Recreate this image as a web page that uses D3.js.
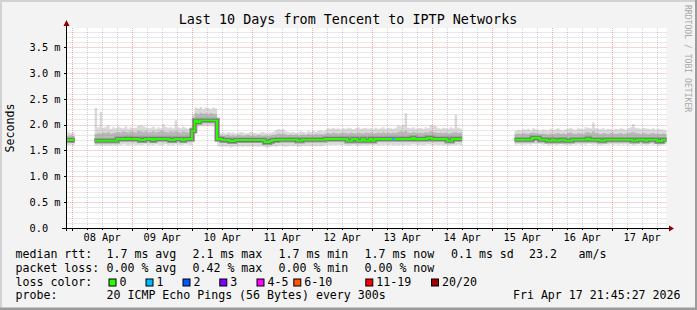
<!DOCTYPE html>
<html>
<head>
<meta charset="utf-8">
<script src="https://cdn.jsdelivr.net/npm/d3@7"></script>
<style>
  body { margin: 0; background: #f3f3f3; }
  svg text { font-family: "DejaVu Sans Mono", monospace; white-space: pre; }
</style>
</head>
<body>
<script>
// ---- data (hourly bins from Apr 7 22:00 UTC, values in ms) ----
var titleText = "Last 10 Days from Tencent to IPTP Networks";

var median = [
  1.70,1.70,1.70,null,null,null,null,null,null,null,
  null,1.69,1.69,1.69,1.69,1.69,1.69,1.69,1.69,1.69,
  1.72,1.72,1.72,1.72,1.73,1.72,1.72,1.72,1.72,1.70,
  1.70,1.72,1.72,1.72,1.70,1.72,1.72,1.72,1.72,1.72,
  1.72,1.70,1.70,1.72,1.72,1.72,1.70,1.72,1.72,1.72,
  1.88,2.08,2.05,2.08,2.08,2.08,2.08,2.08,2.08,2.08,
  1.72,1.72,1.70,1.70,1.70,1.68,1.68,1.70,1.70,1.70,
  1.70,1.70,1.70,1.70,1.70,1.70,1.70,1.70,1.70,1.66,
  1.66,1.68,1.70,1.70,1.71,1.71,1.71,1.71,1.71,1.71,
  1.71,1.71,1.69,1.69,1.71,1.71,1.71,1.71,1.71,1.71,
  1.71,1.71,1.71,1.72,1.72,1.72,1.72,1.72,1.72,1.72,
  1.72,1.72,1.69,1.69,1.72,1.72,1.69,1.69,1.72,1.69,
  1.69,1.72,1.69,1.72,1.72,1.72,1.72,1.72,1.72,1.72,
  1.72,1.72,1.72,1.72,1.72,1.72,1.72,1.72,1.74,1.72,
  1.72,1.72,1.72,1.72,1.74,1.74,1.72,1.72,1.72,1.72,
  1.72,1.72,1.69,1.69,1.72,1.72,1.72,1.72,null,null,
  null,null,null,null,null,null,null,null,null,null,
  null,null,null,null,null,null,null,null,null,1.71,
  1.71,1.71,1.71,1.71,1.71,1.71,1.74,1.74,1.74,1.71,
  1.71,1.71,1.69,1.69,1.71,1.69,1.69,1.71,1.71,1.69,
  1.69,1.69,1.71,1.71,1.71,1.71,1.71,1.71,1.73,1.71,
  1.71,1.71,1.71,1.69,1.69,1.71,1.71,1.71,1.71,1.71,
  1.71,1.71,1.71,1.71,1.71,1.71,1.69,1.69,1.71,1.71,
  1.71,1.69,1.71,1.71,1.71,1.71,1.68,1.68,1.71,1.71
];

var pingMax = [
  1.86,1.84,1.85,null,null,null,null,null,null,null,
  null,2.32,1.95,2.25,1.94,1.96,1.99,1.92,1.95,1.93,
  1.96,1.94,1.93,1.97,1.92,1.95,1.93,1.94,1.98,1.99,
  1.97,1.95,1.93,1.94,1.96,1.92,1.95,1.93,2.01,1.96,
  1.94,1.95,1.93,2.08,1.95,1.93,1.96,1.94,1.92,1.95,
  2.20,2.33,2.31,2.34,2.30,2.33,2.32,2.30,2.33,2.31,
  1.86,1.84,1.85,1.83,1.86,1.84,1.85,1.83,1.84,1.86,
  1.85,1.83,1.84,1.86,1.85,1.84,1.83,1.85,1.86,1.84,
  1.83,1.85,1.86,1.89,1.91,1.90,1.91,1.87,1.86,1.85,
  1.86,1.84,1.85,1.87,1.86,1.85,1.87,1.86,1.88,1.86,
  1.88,1.89,1.87,1.90,1.93,1.92,1.94,1.92,1.93,1.91,
  1.93,1.92,1.94,1.93,1.91,1.93,1.95,1.92,1.93,1.94,
  1.92,1.93,1.91,1.94,1.92,1.93,1.95,1.92,1.94,1.93,
  1.92,1.94,1.98,1.97,1.99,2.22,1.94,1.93,1.95,1.92,
  1.93,1.94,1.92,1.95,1.93,1.99,1.98,1.97,1.93,1.92,
  1.94,1.93,1.92,1.95,1.93,2.19,1.94,1.92,null,null,
  null,null,null,null,null,null,null,null,null,null,
  null,null,null,null,null,null,null,null,null,1.88,
  1.90,1.89,1.91,1.90,1.92,1.89,1.93,1.91,1.90,1.89,
  1.91,1.90,1.89,1.92,1.90,1.91,1.93,1.90,1.89,1.91,
  1.92,1.94,1.91,1.90,1.93,1.92,1.91,1.95,1.94,1.93,
  2.04,1.93,1.92,1.91,1.93,1.90,1.92,1.91,1.90,1.92,
  1.91,1.93,1.92,1.90,1.93,1.95,2.01,1.94,1.93,1.92,
  1.94,1.93,1.92,1.91,1.93,1.90,1.92,1.91,1.90,1.89
];

var pingHigh = [
  1.78,1.79,1.78,null,null,null,null,null,null,null,
  null,1.82,1.84,1.83,1.85,1.84,1.86,1.83,1.84,1.85,
  1.86,1.85,1.87,1.86,1.85,1.87,1.86,1.85,1.88,1.87,
  1.86,1.87,1.85,1.86,1.87,1.85,1.86,1.88,1.87,1.86,
  1.85,1.87,1.86,1.88,1.86,1.85,1.87,1.86,1.85,1.86,
  2.06,2.22,2.20,2.23,2.21,2.22,2.20,2.22,2.21,2.20,
  1.80,1.79,1.78,1.79,1.80,1.78,1.79,1.78,1.80,1.79,
  1.78,1.79,1.80,1.78,1.79,1.78,1.80,1.79,1.78,1.79,
  1.78,1.79,1.80,1.81,1.83,1.82,1.83,1.81,1.80,1.81,
  1.80,1.81,1.79,1.80,1.81,1.80,1.82,1.81,1.80,1.82,
  1.81,1.82,1.81,1.83,1.84,1.83,1.85,1.84,1.83,1.84,
  1.85,1.84,1.83,1.85,1.84,1.83,1.85,1.84,1.83,1.85,
  1.84,1.85,1.83,1.84,1.85,1.84,1.86,1.84,1.85,1.84,
  1.85,1.84,1.86,1.87,1.86,1.88,1.85,1.84,1.86,1.85,
  1.84,1.85,1.84,1.86,1.85,1.87,1.86,1.85,1.84,1.85,
  1.84,1.85,1.83,1.84,1.85,1.86,1.84,1.85,null,null,
  null,null,null,null,null,null,null,null,null,null,
  null,null,null,null,null,null,null,null,null,1.82,
  1.83,1.82,1.84,1.83,1.82,1.84,1.85,1.84,1.83,1.82,
  1.83,1.82,1.81,1.83,1.82,1.83,1.84,1.82,1.83,1.82,
  1.84,1.85,1.83,1.82,1.84,1.83,1.82,1.85,1.86,1.84,
  1.87,1.84,1.83,1.82,1.84,1.83,1.82,1.84,1.83,1.82,
  1.83,1.84,1.82,1.83,1.84,1.85,1.86,1.84,1.83,1.82,
  1.84,1.83,1.82,1.83,1.84,1.82,1.83,1.82,1.83,1.82
];

var pingLow = [
  1.60,1.61,1.60,null,null,null,null,null,null,null,
  null,1.59,1.60,1.59,1.60,1.59,1.60,1.59,1.60,1.59,
  1.61,1.60,1.62,1.61,1.60,1.61,1.62,1.60,1.61,1.60,
  1.61,1.62,1.60,1.61,1.60,1.62,1.61,1.60,1.61,1.62,
  1.60,1.61,1.60,1.62,1.61,1.60,1.61,1.62,1.61,1.60,
  1.70,1.97,1.96,1.98,1.97,1.98,1.97,1.98,1.97,1.98,
  1.58,1.57,1.58,1.57,1.58,1.56,1.57,1.58,1.57,1.58,
  1.57,1.58,1.57,1.58,1.57,1.58,1.57,1.58,1.57,1.56,
  1.56,1.57,1.58,1.57,1.58,1.59,1.58,1.57,1.58,1.59,
  1.58,1.59,1.57,1.58,1.59,1.58,1.59,1.58,1.59,1.58,
  1.59,1.58,1.59,1.60,1.61,1.60,1.61,1.60,1.61,1.60,
  1.61,1.60,1.59,1.60,1.61,1.60,1.59,1.60,1.61,1.60,
  1.60,1.61,1.60,1.61,1.60,1.61,1.60,1.61,1.60,1.61,
  1.60,1.61,1.60,1.61,1.60,1.61,1.60,1.61,1.62,1.61,
  1.60,1.61,1.60,1.61,1.62,1.61,1.60,1.61,1.60,1.61,
  1.60,1.61,1.59,1.60,1.61,1.60,1.61,1.60,null,null,
  null,null,null,null,null,null,null,null,null,null,
  null,null,null,null,null,null,null,null,null,1.61,
  1.62,1.61,1.62,1.61,1.62,1.61,1.63,1.62,1.63,1.62,
  1.61,1.62,1.60,1.61,1.62,1.60,1.61,1.62,1.61,1.60,
  1.61,1.60,1.62,1.61,1.62,1.61,1.62,1.61,1.63,1.62,
  1.61,1.62,1.61,1.60,1.61,1.62,1.61,1.62,1.61,1.62,
  1.61,1.62,1.61,1.62,1.61,1.62,1.60,1.61,1.62,1.61,
  1.62,1.60,1.61,1.62,1.61,1.62,1.59,1.60,1.61,1.62
];

// bins where 1 of 20 pings was lost
var lossBins = [130];

var yTicks = [0, 0.5, 1.0, 1.5, 2.0, 2.5, 3.0, 3.5];
var yTickLabels = ["0.0", "0.5 m", "1.0 m", "1.5 m", "2.0 m", "2.5 m", "3.0 m", "3.5 m"];
var xTickLabels = ["08 Apr", "09 Apr", "10 Apr", "11 Apr", "12 Apr", "13 Apr", "14 Apr", "15 Apr", "16 Apr", "17 Apr"];

var rttStats = ["median rtt:", "1.7 ms avg", "2.1 ms max", "1.7 ms min", "1.7 ms now", "0.1 ms sd", "23.2", "am/s"];
var lossStats = ["packet loss:", "0.00 % avg", "0.42 % max", "0.00 % min", "0.00 % now"];
var lossLabels = ["0", "1", "2", "3", "4-5", "6-10", "11-19", "20/20"];
var lossColors = ["#26ff00", "#00b8ff", "#0059ff", "#7e00ff", "#ff00ff", "#ff5500", "#ff0000", "#a10000"];
var probeText = "20 ICMP Echo Pings (56 Bytes) every 300s";
var stampText = "Fri Apr 17 21:45:27 2026";

// ---- layout ----
var svgWidth = 697, svgHeight = 310;
var plot = {left: 66.5, top: 28, width: 600, height: 200};
var yTop = 3.87;

var startTime = new Date(Date.UTC(2026, 3, 7, 21, 45, 27));
var endTime = new Date(Date.UTC(2026, 3, 17, 21, 45, 27));
var firstBin = new Date(Date.UTC(2026, 3, 7, 22, 0, 0));

var svg = d3.select("body").append("svg")
  .attr("width", svgWidth)
  .attr("height", svgHeight);

svg.append("rect").attr("width", svgWidth).attr("height", svgHeight).attr("fill", "#f3f3f3");
// shaded frame
svg.append("rect").attr("x", 0).attr("y", 0).attr("width", svgWidth).attr("height", 2).attr("fill", "#d2d2d2");
svg.append("rect").attr("x", 0).attr("y", 0).attr("width", 2).attr("height", svgHeight).attr("fill", "#d2d2d2");
svg.append("rect").attr("x", 0).attr("y", svgHeight - 2.5).attr("width", svgWidth).attr("height", 2.5).attr("fill", "#9c9c9c");
svg.append("rect").attr("x", svgWidth - 2).attr("y", 0).attr("width", 2).attr("height", svgHeight).attr("fill", "#9c9c9c");

var x = d3.scaleUtc().domain([startTime, endTime]).range([plot.left, plot.left + plot.width]);
var y = d3.scaleLinear().domain([0, yTop]).range([plot.top + plot.height, plot.top]);

svg.append("rect")
  .attr("x", plot.left).attr("y", plot.top)
  .attr("width", plot.width).attr("height", plot.height)
  .attr("fill", "#ffffff");

svg.append("clipPath").attr("id", "clip")
  .append("rect")
  .attr("x", plot.left).attr("y", plot.top)
  .attr("width", plot.width).attr("height", plot.height);

// expand hourly bins into step points
var steps = [];
median.forEach(function(m, i) {
  if (m == null) { steps.push(null); return; }
  var d = {med: m, max: pingMax[i], high: pingHigh[i], low: pingLow[i]};
  steps.push(Object.assign({t: d3.utcHour.offset(firstBin, i)}, d));
  steps.push(Object.assign({t: d3.utcHour.offset(firstBin, i + 1)}, d));
});

var chartGroup = svg.append("g").attr("clip-path", "url(#clip)");

//smoke
chartGroup.append("path")
  .attr("d", d3.area().defined(d => d).x(d => x(d.t)).y0(d => y(d.low)).y1(d => y(d.max))(steps))
  .attr("fill", "#dadada");

chartGroup.append("path")
  .attr("d", d3.area().defined(d => d).x(d => x(d.t)).y0(d => y(d.med)).y1(d => y(d.high))(steps))
  .attr("fill", "#b8b8b8");

var medLine = d3.line().defined(d => d).x(d => x(d.t)).y(d => y(d.med));

chartGroup.append("path")
  .attr("d", medLine(steps))
  .attr("fill", "none").attr("stroke", "#9a9a9a").attr("stroke-width", 5.5);

chartGroup.append("path")
  .attr("d", medLine(steps))
  .attr("fill", "none").attr("stroke", "#5a5a5a").attr("stroke-width", 3.2);

//median coloured by loss
chartGroup.append("path")
  .attr("d", medLine(steps))
  .attr("fill", "none").attr("stroke", lossColors[0]).attr("stroke-width", 2.2);

chartGroup.selectAll(".loss")
  .data(lossBins)
  .enter()
  .append("line")
  .attr("x1", i => x(d3.utcHour.offset(firstBin, i)))
  .attr("x2", i => x(d3.utcHour.offset(firstBin, i + 1)))
  .attr("y1", i => y(median[i]))
  .attr("y2", i => y(median[i]))
  .attr("stroke", lossColors[1]).attr("stroke-width", 2.2);

// grid on top of the data
var gridGroup = svg.append("g");
var px = v => Math.round(v) + 0.5;

var minorY = y.ticks(40).filter(v => yTicks.indexOf(v) < 0);
gridGroup.selectAll(".ygrid")
  .data(minorY).enter().append("line")
  .attr("x1", plot.left + 1).attr("x2", plot.left + plot.width)
  .attr("y1", d => px(y(d))).attr("y2", d => px(y(d)))
  .attr("stroke", "rgba(150,150,150,0.42)").attr("stroke-dasharray", "1,1");

var sixHours = d3.utcHour.every(6).range(startTime, endTime).filter(t => t.getUTCHours() != 0);
gridGroup.selectAll(".xgrid")
  .data(sixHours).enter().append("line")
  .attr("x1", d => px(x(d))).attr("x2", d => px(x(d)))
  .attr("y1", plot.top).attr("y2", plot.top + plot.height)
  .attr("stroke", "rgba(150,150,150,0.42)").attr("stroke-dasharray", "1,1");

gridGroup.selectAll(".ymgrid")
  .data(yTicks.slice(1)).enter().append("line")
  .attr("x1", plot.left + 1).attr("x2", plot.left + plot.width)
  .attr("y1", d => px(y(d))).attr("y2", d => px(y(d)))
  .attr("stroke", "rgba(225,90,90,0.5)").attr("stroke-dasharray", "1,1");

var days = d3.utcDay.range(startTime, endTime);
gridGroup.selectAll(".xmgrid")
  .data(days).enter().append("line")
  .attr("x1", d => px(x(d))).attr("x2", d => px(x(d)))
  .attr("y1", plot.top).attr("y2", plot.top + plot.height)
  .attr("stroke", "rgba(225,90,90,0.5)").attr("stroke-dasharray", "1,1");

// axes
var axisY = px(y(0)) - 0.5;
var axisX = plot.left;
var axisGroup = svg.append("g").attr("stroke", "#000").attr("shape-rendering", "crispEdges");
axisGroup.append("line").attr("x1", 62).attr("x2", 669).attr("y1", axisY + 0.5).attr("y2", axisY + 0.5);
axisGroup.append("line").attr("x1", axisX).attr("x2", axisX).attr("y1", 24).attr("y2", 231);

axisGroup.selectAll(".yt").data(yTicks.slice(1)).enter().append("line")
  .attr("x1", axisX - 3).attr("x2", axisX).attr("y1", d => px(y(d))).attr("y2", d => px(y(d)));
axisGroup.selectAll(".xt").data(days).enter().append("line")
  .attr("x1", d => px(x(d))).attr("x2", d => px(x(d))).attr("y1", axisY).attr("y2", axisY + 3);
axisGroup.selectAll(".xmt").data(sixHours).enter().append("line")
  .attr("x1", d => px(x(d))).attr("x2", d => px(x(d))).attr("y1", axisY).attr("y2", axisY + 2);

svg.append("path").attr("d", `M${axisX - 3},26 L${axisX + 3},26 L${axisX},20 Z`).attr("fill", "#8b0000");
svg.append("path").attr("d", `M669,${axisY - 2.5} L669,${axisY + 3.5} L674,${axisY + 0.5} Z`).attr("fill", "#8b0000");

// tick labels
svg.selectAll(".ylab").data(yTicks).enter().append("text")
  .attr("x", 29.5).attr("y", d => y(d) + 3.8)
  .attr("font-size", "10.3px").attr("fill", "#000")
  .text((d, i) => yTickLabels[i]);

svg.selectAll(".xlab").data(days).enter().append("text")
  .attr("x", d => x(d3.utcHour.offset(d, 12)))
  .attr("y", 240.5)
  .attr("text-anchor", "middle")
  .attr("font-size", "10.3px").attr("fill", "#000")
  .text((d, i) => xTickLabels[i]);

// titles
svg.append("text")
  .attr("x", 348).attr("y", 23.5)
  .attr("text-anchor", "middle")
  .attr("font-size", "13.4px")
  .text(titleText);

svg.append("text")
  .attr("transform", "translate(14,128) rotate(-90)")
  .attr("text-anchor", "middle")
  .attr("font-size", "11.6px")
  .text("Seconds");

svg.append("text")
  .attr("transform", "translate(685,5) rotate(90)")
  .attr("font-size", "8.1px")
  .attr("fill", "#a8a8a8")
  .text("RRDTOOL / TOBI OETIKER");

// legend
var legendCols = [15.5, 106.5, 192.5, 278.5, 364.5, 451, 529, 578.5];
var rowY = [257.7, 271.7, 285.7, 299.3];
var legendFont = "11.6px";

svg.selectAll(".rtt").data(rttStats).enter().append("text")
  .attr("x", (d, i) => legendCols[i]).attr("y", rowY[0])
  .attr("font-size", legendFont).text(d => d);

svg.selectAll(".pl").data(lossStats).enter().append("text")
  .attr("x", (d, i) => legendCols[i]).attr("y", rowY[1])
  .attr("font-size", legendFont).text(d => d);

svg.append("text").attr("x", legendCols[0]).attr("y", rowY[2])
  .attr("font-size", legendFont).text("loss color:");

// loss colour boxes
var boxX = [108.5, 145.5, 182.5, 219.3, 256.5, 293.3, 365.3, 431];
lossLabels.forEach(function(label, i) {
  svg.append("rect")
    .attr("x", boxX[i] + 0.5).attr("y", 279)
    .attr("width", 7).attr("height", 7)
    .attr("fill", lossColors[i])
    .attr("stroke", "#000").attr("stroke-width", 1);
  svg.append("text")
    .attr("x", boxX[i] + 11).attr("y", rowY[2])
    .attr("font-size", legendFont).text(label);
});

svg.append("text").attr("x", legendCols[0]).attr("y", rowY[3])
  .attr("font-size", legendFont).text("probe:");
svg.append("text").attr("x", legendCols[1]).attr("y", rowY[3])
  .attr("font-size", legendFont).text(probeText);
svg.append("text").attr("x", 680.5).attr("y", rowY[3])
  .attr("text-anchor", "end")
  .attr("font-size", legendFont).text(stampText);
</script>
</body>
</html>
